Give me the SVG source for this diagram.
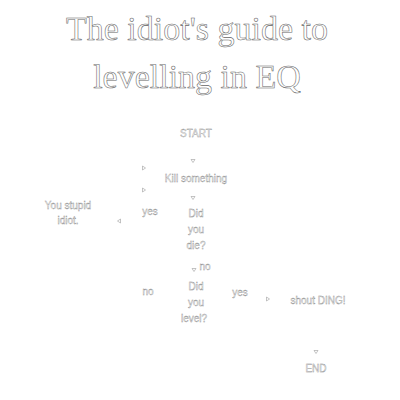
<svg xmlns="http://www.w3.org/2000/svg" width="400" height="400" viewBox="0 0 400 400">
<style>
.t{font-family:"Liberation Serif",serif;font-size:34px;fill:#fff;stroke:#666;stroke-width:0.55;text-anchor:middle}
.s{font-family:"Liberation Sans",Arial,sans-serif;font-size:10px;fill:#fff;stroke:#888;stroke-width:0.35;text-anchor:middle}
.a{fill:#fff;stroke:#888;stroke-width:0.5}
</style>
<defs>
<polygon id="dn" class="a" points="-2,-1.5 2,-1.5 0,1.5"/>
<polygon id="rt" class="a" points="-1.5,-2 -1.5,2 1.5,0"/>
<polygon id="lt" class="a" points="1.5,-2 1.5,2 -1.5,0"/>
</defs>
<rect width="400" height="400" fill="#fff"/>
<g id="title">
<text class="t" x="197" y="40">The idiot's guide to</text>
<text class="t" x="197" y="88">levelling in EQ</text>
</g>
<g id="connectors">
<use href="#dn" x="193" y="161"/>
<use href="#rt" x="144" y="168"/>
<use href="#rt" x="144" y="190"/>
<use href="#dn" x="193" y="198"/>
<use href="#lt" x="119" y="221"/>
<use href="#dn" x="194" y="270"/>
<use href="#rt" x="268" y="299"/>
<use href="#dn" x="316" y="352"/>
<text class="s" x="150" y="215">yes</text>
<text class="s" x="205" y="270">no</text>
<text class="s" x="148" y="295">no</text>
<text class="s" x="240" y="296">yes</text>
</g>
<g id="start"><text class="s" x="196" y="137">START</text></g>
<g id="kill"><text class="s" x="196" y="182">Kill something</text></g>
<g id="stupid"><text class="s" x="68" y="209">You stupid</text><text class="s" x="68" y="224">idiot.</text></g>
<g id="die"><text class="s" x="196" y="217">Did</text><text class="s" x="196" y="233">you</text><text class="s" x="196" y="249">die?</text></g>
<g id="level"><text class="s" x="196" y="290">Did</text><text class="s" x="196" y="306">you</text><text class="s" x="194" y="322">level?</text></g>
<g id="ding"><text class="s" x="318" y="304">shout DING!</text></g>
<g id="end"><text class="s" x="316" y="372">END</text></g>
</svg>
